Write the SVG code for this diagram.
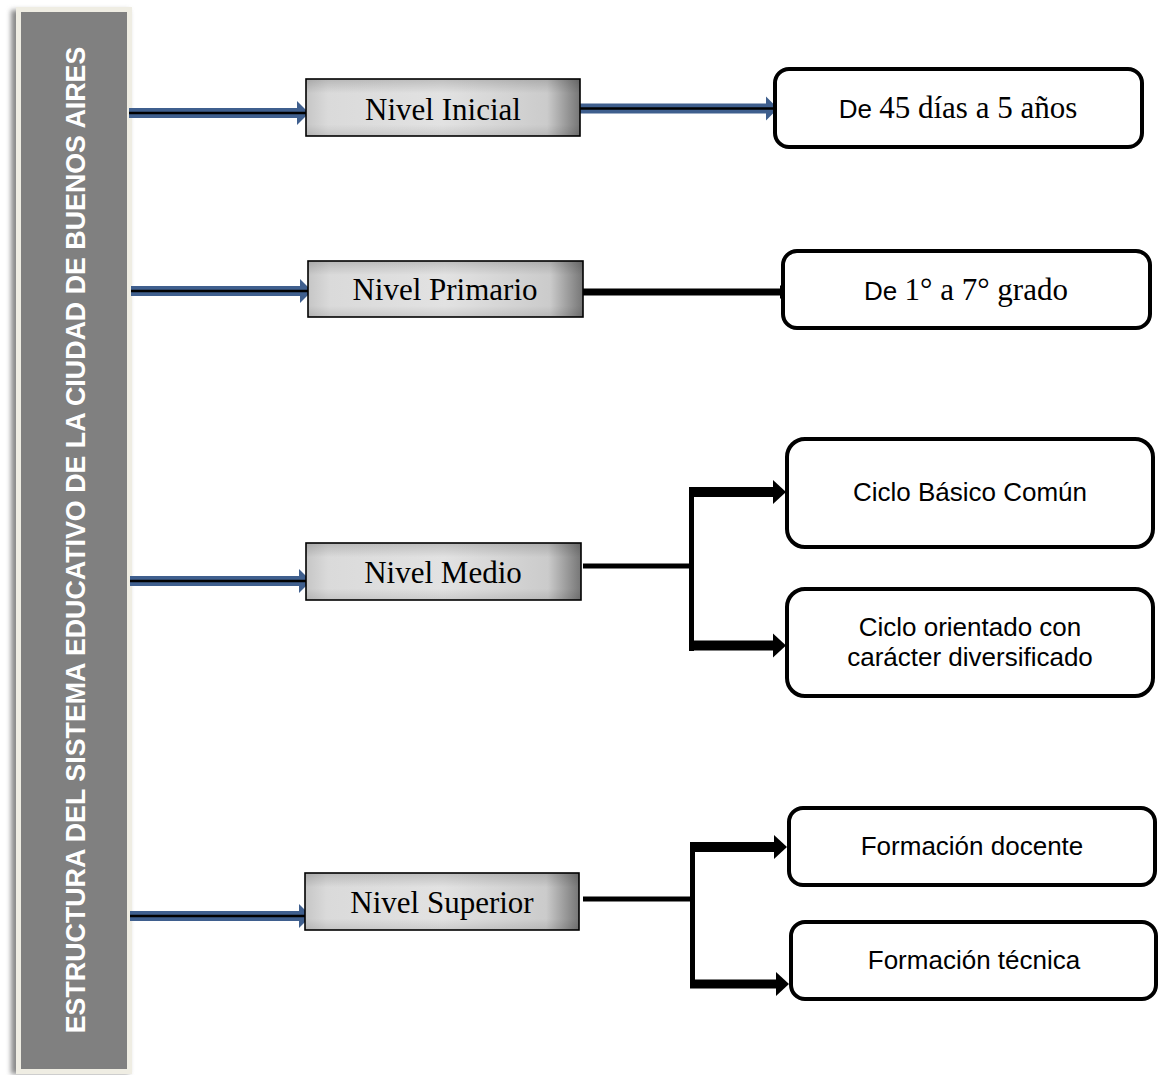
<svg xmlns="http://www.w3.org/2000/svg" width="1159" height="1075" viewBox="0 0 1159 1075">
  <style>
    .lvl-text { font-family: "Liberation Serif", "Times New Roman", serif; font-size: 31px; fill: #000; text-anchor: middle; }
    .sans { font-family: "Liberation Sans", Arial, sans-serif; font-size: 26px; fill: #000; text-anchor: middle; }
    .serif { font-family: "Liberation Serif", "Times New Roman", serif; font-size: 31px; }
    .sans-in { font-family: "Liberation Sans", Arial, sans-serif; font-size: 26px; }
    .leaf { fill: #fff; stroke: #000; stroke-width: 4; }
    .lvl-frame { fill: none; stroke: #000; stroke-width: 1.6; }
    .blue { stroke: #3f5f8e; stroke-width: 10; fill: none; }
    .bcore { stroke: #000; stroke-width: 2.5; fill: none; }
    .thick { stroke: #000; fill: none; }
  </style>
  <defs>
    <linearGradient id="gh" x1="0" y1="0" x2="1" y2="0">
      <stop offset="0" stop-color="#c6c6c6"/>
      <stop offset="0.08" stop-color="#dadada"/>
      <stop offset="0.5" stop-color="#e2e2e2"/>
      <stop offset="0.88" stop-color="#cbcbcb"/>
      <stop offset="1" stop-color="#767676"/>
    </linearGradient>
    <linearGradient id="gv" x1="0" y1="0" x2="0" y2="1">
      <stop offset="0" stop-color="#000" stop-opacity="0.16"/>
      <stop offset="0.25" stop-color="#000" stop-opacity="0"/>
      <stop offset="0.8" stop-color="#000" stop-opacity="0"/>
      <stop offset="1" stop-color="#000" stop-opacity="0.1"/>
    </linearGradient>
    <filter id="blur" x="-20%" y="-5%" width="140%" height="110%">
      <feGaussianBlur stdDeviation="2.5"/>
    </filter>
    <filter id="sh" x="-20%" y="-20%" width="140%" height="140%">
      <feGaussianBlur stdDeviation="1.5"/>
    </filter>
    <marker id="blueHead" markerUnits="userSpaceOnUse" markerWidth="12" markerHeight="24" refX="0" refY="12" orient="auto" overflow="visible">
      <path d="M0,0 L12,12 L0,24 Z" fill="#3f5f8e"/>
    </marker>
    <marker id="blackHead" markerUnits="userSpaceOnUse" markerWidth="14" markerHeight="26" refX="0" refY="12" orient="auto" overflow="visible">
      <path d="M0,0 L13,12 L0,24 Z" fill="#000"/>
    </marker>
    <marker id="smallHead" markerUnits="userSpaceOnUse" markerWidth="8" markerHeight="14" refX="0" refY="7" orient="auto" overflow="visible">
      <path d="M0,0 L7,7 L0,14 Z" fill="#000"/>
    </marker>
  </defs>

  <rect width="1159" height="1075" fill="#fff"/>

  <!-- Left title bar -->
  <g id="title-bar">
    <rect x="11" y="10" width="118" height="1064" fill="#8a8a8a" filter="url(#blur)"/>
    <rect x="16" y="7" width="116" height="1067" fill="#efede3"/>
    <rect x="21" y="12" width="106" height="1057" fill="#808080"/>
    <text transform="translate(85,540) rotate(-90)" text-anchor="middle" font-family="Liberation Sans, Arial, sans-serif" font-weight="bold" font-size="26.8" fill="#fff">ESTRUCTURA DEL SISTEMA EDUCATIVO DE LA CIUDAD DE BUENOS AIRES</text>
  </g>

  <!-- Connectors -->
  <g id="connectors">
    <!-- title bar to levels (blue double arrows) -->
    <path class="blue" d="M129,113 L297,113" marker-end="url(#blueHead)"/>
    <path class="bcore" d="M129,113 L306,113"/>
    <path class="blue" d="M131,291 L300,291" marker-end="url(#blueHead)"/>
    <path class="bcore" d="M131,291 L309,291"/>
    <path class="blue" d="M130,581 L299,581" marker-end="url(#blueHead)"/>
    <path class="bcore" d="M130,581 L308,581"/>
    <path class="blue" d="M130,916 L299,916" marker-end="url(#blueHead)"/>
    <path class="bcore" d="M130,916 L308,916"/>

    <!-- Inicial to leaf -->
    <path class="blue" d="M580,108.5 L766,108.5" marker-end="url(#blueHead)"/>
    <path class="bcore" d="M580,108.5 L775,108.5"/>

    <!-- Primario to leaf -->
    <path class="thick" stroke-width="7" d="M583,292 L780,292" marker-end="url(#smallHead)"/>

    <!-- Medio branches -->
    <path d="M695,490 L695,642" stroke="#bbb" stroke-width="5" filter="url(#sh)"/>
    <path class="thick" stroke-width="5" d="M583,566 L692,566"/>
    <path class="thick" stroke-width="5" d="M691.5,487 L691.5,651"/>
    <path class="thick" stroke-width="10" d="M689,492 L773,492" marker-end="url(#blackHead)"/>
    <path class="thick" stroke-width="10" d="M689,645.5 L773,645.5" marker-end="url(#blackHead)"/>

    <!-- Superior branches -->
    <path d="M696,846 L696,984" stroke="#bbb" stroke-width="5" filter="url(#sh)"/>
    <path class="thick" stroke-width="5" d="M583,899 L692,899"/>
    <path class="thick" stroke-width="5" d="M692.5,842 L692.5,988"/>
    <path class="thick" stroke-width="10" d="M690,847 L774,847" marker-end="url(#blackHead)"/>
    <path class="thick" stroke-width="9" d="M690,984 L776,984" marker-end="url(#blackHead)"/>
  </g>

  <!-- Level nodes -->
  <g id="nivel-inicial">
    <rect x="306" y="79" width="274" height="57" fill="url(#gh)"/>
    <rect x="306" y="79" width="274" height="57" fill="url(#gv)"/>
    <rect class="lvl-frame" x="306" y="79" width="274" height="57"/>
    <text class="lvl-text" x="443" y="120">Nivel Inicial</text>
  </g>
  <g id="nivel-primario">
    <rect x="308" y="261" width="275" height="56" fill="url(#gh)"/>
    <rect x="308" y="261" width="275" height="56" fill="url(#gv)"/>
    <rect class="lvl-frame" x="308" y="261" width="275" height="56"/>
    <text class="lvl-text" x="445" y="300">Nivel Primario</text>
  </g>
  <g id="nivel-medio">
    <rect x="306" y="543" width="275" height="57" fill="url(#gh)"/>
    <rect x="306" y="543" width="275" height="57" fill="url(#gv)"/>
    <rect class="lvl-frame" x="306" y="543" width="275" height="57"/>
    <text class="lvl-text" x="443" y="583">Nivel Medio</text>
  </g>
  <g id="nivel-superior">
    <rect x="305" y="873" width="274" height="57" fill="url(#gh)"/>
    <rect x="305" y="873" width="274" height="57" fill="url(#gv)"/>
    <rect class="lvl-frame" x="305" y="873" width="274" height="57"/>
    <text class="lvl-text" x="442" y="913">Nivel Superior</text>
  </g>

  <!-- Leaf nodes -->
  <g id="leaf-inicial">
    <rect class="leaf" x="775" y="69" width="367" height="78" rx="14"/>
    <text x="958" y="118" text-anchor="middle"><tspan class="sans-in">De </tspan><tspan class="serif">45 días a 5 años</tspan></text>
  </g>
  <g id="leaf-primario">
    <rect class="leaf" x="783" y="251" width="367" height="77" rx="14"/>
    <text x="966" y="300" text-anchor="middle"><tspan class="sans-in">De </tspan><tspan class="serif">1° a 7° grado</tspan></text>
  </g>
  <g id="leaf-cbc">
    <rect class="leaf" x="787" y="439" width="366" height="108" rx="18"/>
    <text class="sans" x="970" y="501">Ciclo Básico Común</text>
  </g>
  <g id="leaf-orientado">
    <rect class="leaf" x="787" y="589" width="366" height="107" rx="18"/>
    <text class="sans" x="970" y="636">Ciclo orientado con</text>
    <text class="sans" x="970" y="666">carácter diversificado</text>
  </g>
  <g id="leaf-docente">
    <rect class="leaf" x="789" y="808" width="366" height="77" rx="14"/>
    <text class="sans" x="972" y="855">Formación docente</text>
  </g>
  <g id="leaf-tecnica">
    <rect class="leaf" x="791" y="922" width="365" height="77" rx="14"/>
    <text class="sans" x="974" y="969">Formación técnica</text>
  </g>
</svg>
